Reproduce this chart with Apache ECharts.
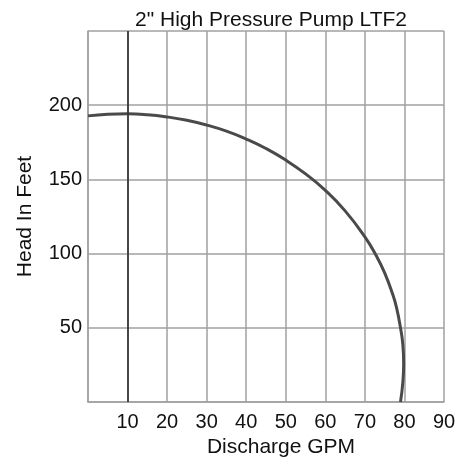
<!DOCTYPE html>
<html>
<head>
<meta charset="utf-8">
<script src="https://cdn.jsdelivr.net/npm/echarts@6/dist/echarts.min.js"></script>
<style>
  html, body { margin: 0; padding: 0; background: #fff; }
  #chart { width: 473px; height: 459px; }
</style>
</head>
<body>
<div id="chart"></div>
<script>
// Pump performance curve: discharge (GPM) vs total head (feet)
const flowGpm = [0, 5, 10, 15, 20, 25, 30, 35, 40, 45, 50, 55, 60, 65, 70, 73, 75, 77, 78, 79, 79.6, 79.8, 79.6, 79.0];
const headFt  = [192.8, 193.9, 194.2, 193.6, 192.1, 189.8, 186.6, 182.5, 177.2, 170.8, 163, 153.7, 142.6, 128.8, 111.3, 98, 87, 72.8, 63.6, 50, 38.5, 26, 13.4, 0];

const xTicks = [0, 10, 20, 30, 40, 50, 60, 70, 80, 90];
const yTicks = [0, 50, 100, 150, 200, 250];

const curve = flowGpm.map((q, i) => [q, headFt[i]]);

const gridColor = '#a0a0a0';
const textFont = 'Liberation Sans, Arial, sans-serif';

const chart = echarts.init(document.getElementById('chart'), null, { renderer: 'canvas' });
chart.setOption({
  animation: false,
  backgroundColor: '#ffffff',
  title: {
    text: '2" High Pressure Pump LTF2',
    left: 266,
    textAlign: 'center',
    top: 5,
    textStyle: { fontFamily: textFont, fontSize: 21, fontWeight: 'normal', color: '#111' }
  },
  grid: { left: 88, right: 29, top: 31, bottom: 57, containLabel: false, outerBoundsMode: 'none' },
  xAxis: {
    type: 'value',
    min: xTicks[0],
    max: xTicks[xTicks.length - 1],
    interval: 10,
    name: 'Discharge GPM',
    nameLocation: 'middle',
    nameGap: 33,
    nameTextStyle: { fontFamily: textFont, fontSize: 21, color: '#111', padding: [0, 0, 0, 30] },
    axisLine: { show: true, lineStyle: { color: gridColor, width: 1.5 } },
    axisTick: { show: false },
    axisLabel: {
      fontFamily: textFont, fontSize: 20, color: '#111', margin: 10,
      formatter: v => (v === xTicks[0] ? '' : String(v))
    },
    splitLine: { show: true, showMinLine: true, showMaxLine: true, lineStyle: { color: gridColor, width: 1.5 } }
  },
  yAxis: {
    type: 'value',
    min: yTicks[0],
    max: yTicks[yTicks.length - 1],
    interval: 50,
    name: 'Head In Feet',
    nameLocation: 'middle',
    nameGap: 52,
    nameTextStyle: { fontFamily: textFont, fontSize: 21, color: '#111' },
    axisLine: { show: true, lineStyle: { color: gridColor, width: 1.5 } },
    axisTick: { show: false },
    axisLabel: {
      fontFamily: textFont, fontSize: 20, color: '#111', margin: 6,
      formatter: v => (v === yTicks[0] || v === yTicks[yTicks.length - 1] ? '' : String(v))
    },
    splitLine: { show: true, showMinLine: true, showMaxLine: true, lineStyle: { color: gridColor, width: 1.5 } }
  },
  series: [{
    type: 'line',
    data: curve,
    smooth: 0.5,
    showSymbol: false,
    lineStyle: { color: '#4a4a4a', width: 3 },
    markLine: {
      silent: true,
      symbol: 'none',
      label: { show: false },
      lineStyle: { color: '#3a3a3a', width: 1.8, type: 'solid' },
      data: [{ xAxis: 10 }]
    }
  }]
});
</script>
</body>
</html>
